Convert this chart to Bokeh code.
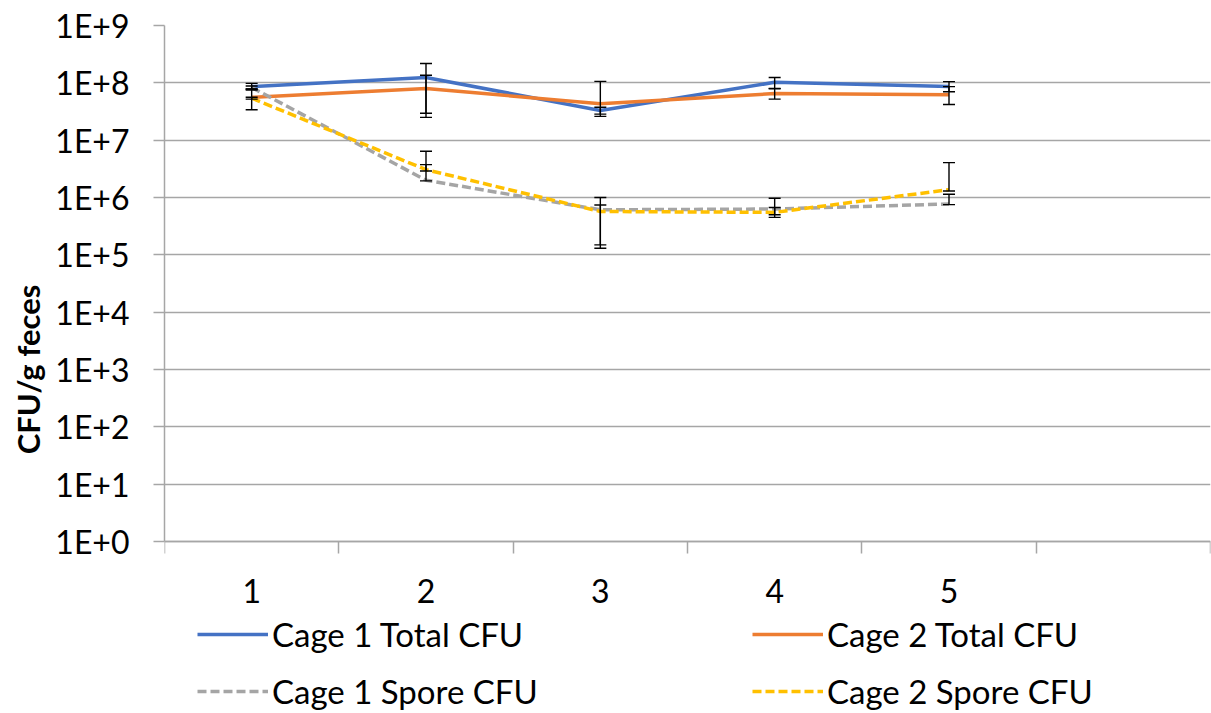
from bokeh.plotting import figure
from bokeh.models import (ColumnDataSource, Whisker, TeeHead, FixedTicker, Legend,
                          LegendItem, Range1d, Title)
from bokeh.embed import file_html
from bokeh.resources import INLINE

# ---------------- data ----------------
days = [1, 2, 3, 4, 5]
x_tick_labels = ["1", "2", "3", "4", "5"]
n_slots = 6  # category slots on the x axis (last one empty)

series_names = ["Cage 1 Total CFU", "Cage 2 Total CFU", "Cage 1 Spore CFU", "Cage 2 Spore CFU"]

cage1_total = [8.6e7, 1.24e8, 3.3e7, 1.02e8, 8.6e7]
cage1_total_lo = [7.5e7, 2.95e7, 2.85e7, 8.0e7, 7.0e7]
cage1_total_hi = [9.8e7, 2.18e8, 3.75e7, 1.24e8, 1.05e8]

cage2_total = [5.6e7, 8.0e7, 4.3e7, 6.5e7, 6.2e7]
cage2_total_lo = [3.4e7, 2.5e7, 2.6e7, 5.2e7, 4.2e7]
cage2_total_hi = [7.8e7, 1.36e8, 1.06e8, 7.9e7, 8.6e7]

cage1_spore = [8.3e7, 2.0e6, 6.1e5, 6.3e5, 7.7e5]
cage1_spore_lo = [7.8e7, 1.95e6, 1.3e5, 4.5e5, 7.5e5]
cage1_spore_hi = [8.8e7, 3.74e6, 7.4e5, 9.7e5, 1.14e6]

cage2_spore = [5.4e7, 3.06e6, 5.7e5, 5.5e5, 1.37e6]
cage2_spore_lo = [5.2e7, 2.9e6, 1.49e5, 5.0e5, 1.3e6]
cage2_spore_hi = [5.6e7, 6.4e6, 1.0e6, 6.7e5, 4.05e6]

y_ticks = [1, 10, 100, 1e3, 1e4, 1e5, 1e6, 1e7, 1e8, 1e9]
y_tick_labels = ["1E+0", "1E+1", "1E+2", "1E+3", "1E+4", "1E+5", "1E+6", "1E+7", "1E+8", "1E+9"]

y_title = "CFU/g feces"

# ---------------- styles ----------------
colors = ["#4472C4", "#ED7D31", "#A5A5A5", "#FFC000"]
dashes = ["solid", "solid", "9 4", "9 4"]
FONT = "Lato"
GRID = "#A6A6A6"

# frame runs to the canvas bottom so that the legend (drawn under the axis) is not clipped;
# the value axis only spans 1E+0 .. 1E+9 via its bounds.
p = figure(width=1211, height=713, output_backend="svg", toolbar_location=None,
           y_axis_type="log",
           x_range=Range1d(0.5, n_slots + 0.5), y_range=Range1d(1e-3, 1e9),
           min_border_left=164, min_border_right=1, min_border_top=25, min_border_bottom=0)
p.outline_line_color = None
p.background_fill_color = "white"
p.border_fill_color = "white"

values = [cage1_total, cage2_total, cage1_spore, cage2_spore]
lows = [cage1_total_lo, cage2_total_lo, cage1_spore_lo, cage2_spore_lo]
highs = [cage1_total_hi, cage2_total_hi, cage1_spore_hi, cage2_spore_hi]

renderers = []
sources = []
for vals, lo, hi, col, dash in zip(values, lows, highs, colors, dashes):
    src = ColumnDataSource(dict(x=days, y=vals, lo=lo, hi=hi))
    sources.append(src)
    r = p.line("x", "y", source=src, line_color=col, line_width=3.5,
               line_dash=dash, line_join="round", line_cap="butt")
    renderers.append(r)

for src in sources:
    w = Whisker(source=src, base="x", lower="lo", upper="hi", dimension="height",
                line_color="black", line_width=1.4,
                upper_head=TeeHead(size=12, line_color="black", line_width=1.4),
                lower_head=TeeHead(size=12, line_color="black", line_width=1.4),
                level="annotation")
    p.add_layout(w)

# ---------------- axes ----------------
p.xgrid.visible = False
p.ygrid.grid_line_color = GRID
p.ygrid.grid_line_width = 1.5

yax = p.yaxis[0]
yax.ticker = FixedTicker(ticks=y_ticks, minor_ticks=[])
yax.bounds = (y_ticks[0], y_ticks[-1])
yax.major_label_overrides = {float(t): lab for t, lab in zip(y_ticks, y_tick_labels)}
yax.major_label_text_font = FONT
yax.major_label_text_font_size = "32px"
yax.major_label_text_color = "black"
yax.major_label_standoff = 24
yax.major_tick_out = 11
yax.major_tick_in = 0
yax.major_tick_line_color = GRID
yax.major_tick_line_width = 1.5
yax.minor_tick_line_color = None
yax.axis_line_color = GRID
yax.axis_line_width = 1.5

# value-axis title, centred on the 1E+0..1E+9 span (frame extends lower for the legend)
ytitle = Title(text=y_title, align="center", offset=86, standoff=11,
               text_font=FONT, text_font_style="bold", text_font_size="31px",
               text_color="black")
p.add_layout(ytitle, "left")

xax = p.xaxis[0]
xax.fixed_location = y_ticks[0]
xax.ticker = FixedTicker(ticks=days, minor_ticks=[i + 0.5 for i in range(n_slots + 1)])
xax.major_label_overrides = {float(d): lab for d, lab in zip(days, x_tick_labels)}
xax.major_label_text_font = FONT
xax.major_label_text_font_size = "32px"
xax.major_label_text_color = "black"
xax.major_label_standoff = 25
xax.major_tick_line_color = None
xax.major_tick_out = 0
xax.major_tick_in = 0
xax.minor_tick_out = 12
xax.minor_tick_in = 0
xax.minor_tick_line_color = GRID
xax.minor_tick_line_width = 1.5
xax.axis_line_color = GRID
xax.axis_line_width = 1.5

# ---------------- legend ----------------
items = [LegendItem(label=n, renderers=[r]) for n, r in zip(series_names, renderers)]
legend = Legend(items=items, location=(33, 2), orientation="horizontal", ncols=2,
                glyph_width=71, glyph_height=38, label_height=38, label_width=463,
                label_standoff=4, spacing=17, padding=0, margin=0,
                border_line_color=None, background_fill_alpha=0,
                label_text_font=FONT, label_text_font_size="33px",
                label_text_color="black", label_text_baseline="middle")
p.add_layout(legend)

open("out.html", "w").write(file_html(p, INLINE))
